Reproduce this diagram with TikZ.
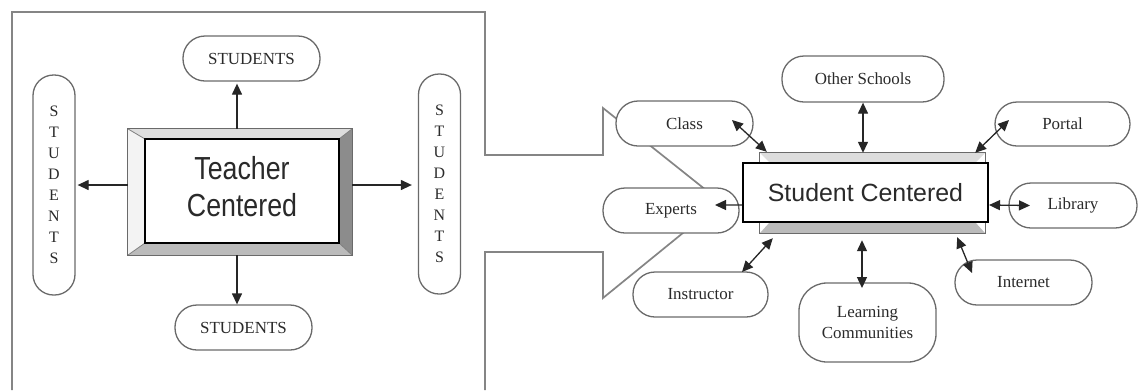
\documentclass[tikz,border=0pt]{standalone}
\usepackage{fontspec}
\setmainfont{Liberation Serif}
\newfontfamily\arialf{Liberation Sans}
\usetikzlibrary{arrows.meta,calc}
\definecolor{framegray}{HTML}{858585}
\definecolor{capgray}{HTML}{6A6A6A}
\definecolor{txtgray}{HTML}{2A2A2A}
\definecolor{bevtop}{HTML}{DDDDDD}
\definecolor{bevleft}{HTML}{F3F3F3}
\definecolor{bevright}{HTML}{8C8C8C}
\definecolor{bevbot}{HTML}{BBBBBB}
\begin{document}
\begin{tikzpicture}[x=1bp,y=-1bp,
  capsule/.style={draw=capgray, line width=1.3bp, fill=white, rounded corners=22bp,
    inner sep=0pt, font=\fontsize{17}{22}\selectfont, text=txtgray, align=center},
  vcapsule/.style={capsule, rounded corners=20.5bp, minimum width=42bp, minimum height=220bp,
    font=\fontsize{16}{21.1}\selectfont},
  framel/.style={draw=framegray, line width=1.7bp},
  conn/.style={draw=black!85, line width=1.3bp},
  tip/.style={-{Triangle[length=11bp,width=10bp]}},
  dtip/.style={{Triangle[length=11bp,width=10bp]}-{Triangle[length=11bp,width=10bp]}},
  bevout/.style={draw=capgray, line width=1.3bp},
  corner/.style={draw=gray, line width=0.8bp}
]
\useasboundingbox (0,0) rectangle (1138,390);
\fill[white] (0,0) rectangle (1138,390);

% big frame / arrow outline
\draw[framel] (12,390) -- (12,12) -- (485,12) -- (485,155) -- (603,155) -- (603,108)
  -- (721,202) -- (603,298) -- (603,252) -- (485,252) -- (485,390);

% ---------- Teacher centered ----------
\node[minimum width=224bp, minimum height=126bp, inner sep=0pt] (tbev) at (240,192) {};
\coordinate (ti1) at (145,139);
\coordinate (ti2) at (339,139);
\coordinate (ti3) at (339,243);
\coordinate (ti4) at (145,243);
\fill[bevtop] (tbev.north west) -- (tbev.north east) -- (ti2) -- (ti1) -- cycle;
\fill[bevright] (tbev.north east) -- (tbev.south east) -- (ti3) -- (ti2) -- cycle;
\fill[bevbot] (tbev.south west) -- (tbev.south east) -- (ti3) -- (ti4) -- cycle;
\fill[bevleft] (tbev.north west) -- (tbev.south west) -- (ti4) -- (ti1) -- cycle;
\draw[corner] (tbev.north west) -- (ti1) (tbev.north east) -- (ti2)
  (tbev.south east) -- (ti3) (tbev.south west) -- (ti4);
\draw[bevout] (tbev.north west) rectangle (tbev.south east);
\node[draw=black, line width=2.4bp, fill=white, minimum width=194bp, minimum height=104bp,
  inner sep=0pt, text=txtgray] (tin) at (242,191)
  {\arialf\fontsize{32}{37}\selectfont\scalebox{0.84}[1]{\begin{tabular}{@{}c@{}}Teacher\\[0pt]Centered\end{tabular}}};

\node[capsule, minimum width=137bp, minimum height=45bp] (stT) at (251.5,58.5) {STUDENTS};
\node[capsule, minimum width=137bp, minimum height=45bp] (stB) at (243.5,327.5) {STUDENTS};
\node[vcapsule] (stL) at (54,185) {S\\T\\U\\D\\E\\N\\T\\S};
\node[vcapsule] (stR) at (439.5,184) {S\\T\\U\\D\\E\\N\\T\\S};

\draw[conn,tip] ($(tbev.north)+(-3,0)$) -- ($(tbev.north |- stT.south)+(-3,2)$);
\draw[conn,tip] ($(tbev.south)+(-3,0)$) -- ($(tbev.south |- stB.north)+(-3,0)$);
\draw[conn,tip] ($(tbev.west)+(0,-7)$) -- ($(stL.east)+(2,0)$);
\draw[conn,tip] ($(tbev.east)+(0,-7)$) -- ($(stR.west)+(-6,1)$);

% ---------- Student centered ----------
\node[minimum width=225bp, minimum height=80bp, inner sep=0pt] (sbev) at (872.5,193) {};
\fill[bevtop] (sbev.north west) -- (sbev.north east) -- (975,163) -- (770,163) -- cycle;
\fill[bevbot] (sbev.south west) -- (sbev.south east) -- (975,222) -- (770,222) -- cycle;
\draw[bevout] (sbev.north west) rectangle (sbev.south east);
\node[draw=black, line width=2bp, fill=white, minimum width=245bp, minimum height=59bp,
  inner sep=0pt, text=txtgray, font=\arialf\fontsize{25}{30}\selectfont] (sin) at (865.5,192.5)
  {Student Centered};

\node[capsule, minimum width=162bp, minimum height=46bp] (other) at (863,79) {Other Schools};
\node[capsule, minimum width=137bp, minimum height=45bp] (class) at (684.5,123.5) {Class};
\node[capsule, minimum width=135bp, minimum height=44bp] (portal) at (1062.5,124) {Portal};
\node[capsule, minimum width=128bp, minimum height=45bp] (library) at (1073,205.5) {Library};
\node[capsule, minimum width=137bp, minimum height=45bp] (internet) at (1023.5,282.5) {Internet};
\node[capsule, rounded corners=28bp, minimum width=137bp, minimum height=79bp] (learning) at (867.5,322.5) {Learning\\Communities};
\node[capsule, minimum width=135bp, minimum height=45bp] (instructor) at (700.5,294.5) {Instructor};
\node[capsule, minimum width=136bp, minimum height=45bp] (experts) at (671,210.5) {Experts};

\draw[conn,dtip] ($(class.center)+(47.5,-3.5)$) -- ($(sbev.north west)+(7,-1)$);
\draw[conn,dtip] (other.south) -- (other.south |- sbev.north);
\draw[conn,dtip] ($(portal.center)+(-53.5,-4)$) -- ($(sbev.north east)+(-10,0)$);
\draw[conn,dtip] ($(sin.east)+(0,12.5)$) -- ($(library.center)+(-43,0)$);
\draw[conn,dtip] ($(sbev.south east)+(-28,4)$) -- ($(internet.center)+(-51.5,-9.5)$);
\draw[conn,dtip] ($(sbev.south)+(-10.5,7)$) -- ($(learning.center)+(-5.5,-34.5)$);
\draw[conn,dtip] ($(instructor.center)+(41.5,-22.5)$) -- ($(sbev.south west)+(13,5)$);
\draw[conn,tip] ($(sin.west)+(0,12.5)$) -- ($(experts.center)+(44,-5.5)$);
\end{tikzpicture}
\end{document}
